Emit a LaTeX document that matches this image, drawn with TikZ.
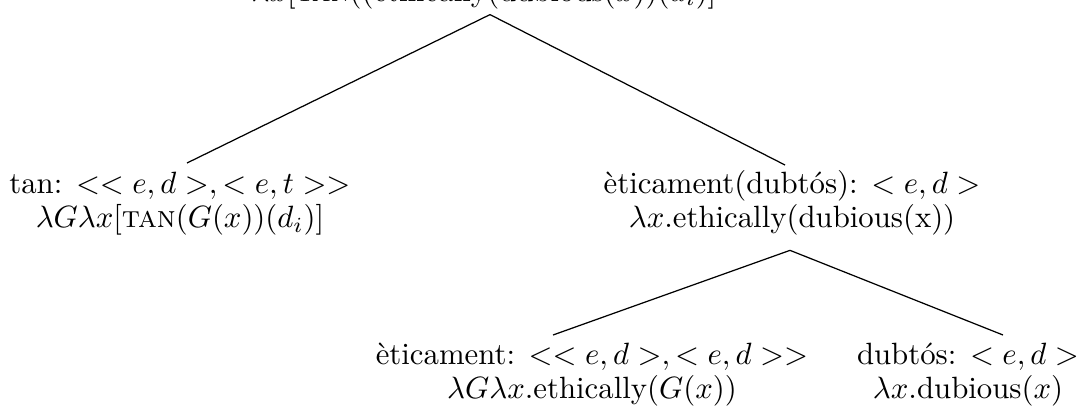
\documentclass[tikz,border=0pt]{standalone}
\usetikzlibrary{calc}
\begin{document}
\begin{tikzpicture}[x=0.325pt,y=-0.325pt,
  every node/.style={font=\fontsize{10}{11}\selectfont},
  lbl/.style={align=center,inner sep=0pt,anchor=north},
  conn/.style={line width=0.4pt}]
\useasboundingbox (0,0) rectangle (1087,407);
\clip (0,0) rectangle (1087,407);
\node[inner sep=0pt,anchor=base] (root) at (484,1)
  {$\lambda x[\textsc{tan}((\mathrm{ethically}(\mathrm{dubious}(x))(d_i)]$};
\node[lbl] (L) at (180,171.6)
  {tan: $<<e,d>,<e,t>>$\\ $\lambda G\lambda x[\textsc{tan}(G(x))(d_i)]$};
\node[lbl] (R) at (792,170)
  {èticament(dubtós): $<e,d>$\\ $\lambda x.$ethically(dubious(x))};
\node[lbl] (GL) at (592,342.6)
  {èticament: $<<e,d>,<e,d>>$\\ $\lambda G\lambda x.$ethically$(G(x))$};
\node[lbl] (GR) at (968,342.6)
  {dubtós: $<e,d>$\\ $\lambda x.$dubious$(x)$};
\draw[conn] ($(root.south)+(6,5.3)$) -- ($(L.north)+(7,-8.6)$);
\draw[conn] ($(root.south)+(6,5.3)$) -- ($(R.north)+(-7,-5)$);
\draw[conn] ($(R.south)+(-2,14.5)$) -- ($(GL.north)+(-39,-7.6)$);
\draw[conn] ($(R.south)+(-2,14.5)$) -- ($(GR.north)+(35,-7.6)$);
\end{tikzpicture}
\end{document}
